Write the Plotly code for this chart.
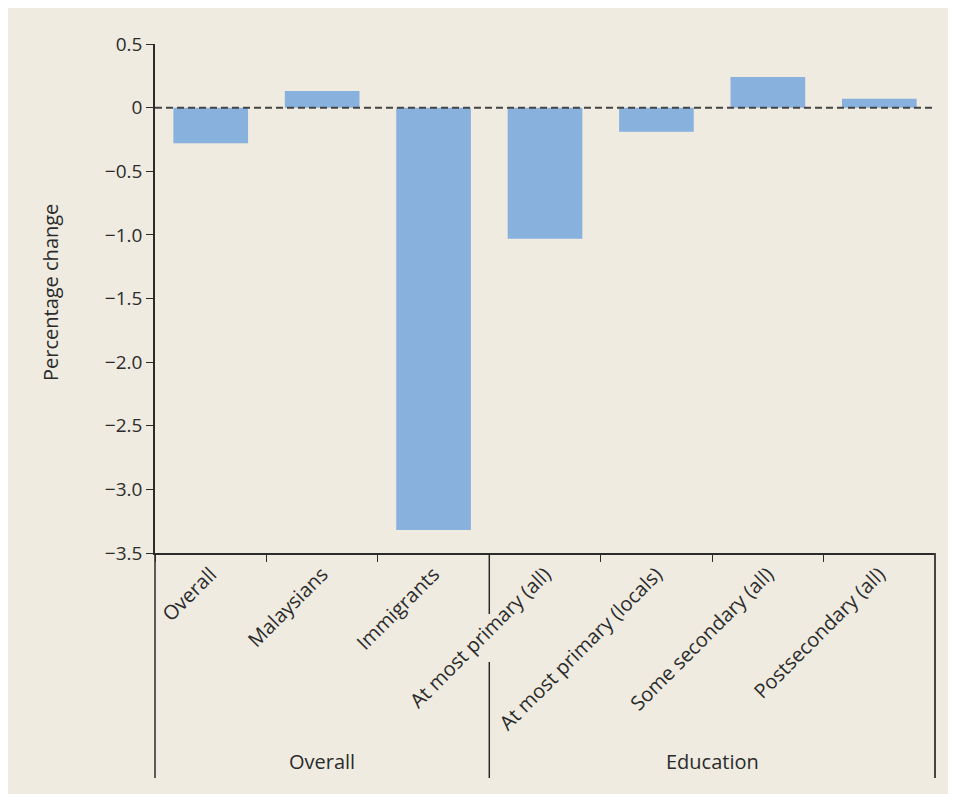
import plotly.graph_objects as go

# data
categories = [
    "Overall",
    "Malaysians",
    "Immigrants",
    "At most primary (all)",
    "At most primary (locals)",
    "Some secondary (all)",
    "Postsecondary (all)",
]
values = [-0.28, 0.13, -3.32, -1.03, -0.19, 0.24, 0.07]
group_names = ["Overall", "Education"]
group_centers = [1, 4.5]

y_tickvals = [0.5, 0, -0.5, -1.0, -1.5, -2.0, -2.5, -3.0, -3.5]
y_ticktext = ["0.5", "0", "\u22120.5", "\u22121.0", "\u22121.5", "\u22122.0",
              "\u22122.5", "\u22123.0", "\u22123.5"]

BEIGE = "#EFEBE1"
BAR = "#88B1DD"
INK = "#2B2B2B"
FONT = "Open Sans"

# page body margin shifts the figure by 8px; plot area on screen is x 155..935, y 44..553
OFF = 8
W, H = 956, 794
FW, FH = W + 20, H + 20  # a bit oversized so the beige reaches the window edges
L, T = 155 - OFF, 44 - OFF
R = FW - (935 - OFF)
B = FH - (553 - OFF)
pw, ph = FW - L - R, FH - T - B


def px_x(px):
    return (px - OFF - L) / pw


def px_y(py):
    return (FH - B - (py - OFF)) / ph


fig = go.Figure()

fig.add_trace(
    go.Bar(
        x=categories,
        y=values,
        marker=dict(color=BAR, line=dict(width=0)),
        showlegend=False,
        hoverinfo="x+y",
    )
)

shapes = [
    # dashed zero line
    dict(type="line", xref="paper", yref="y", x0=0, x1=1, y0=0, y1=0,
         line=dict(color="#444444", width=2, dash="7px,4px")),
    # group separators
    dict(type="line", xref="paper", yref="paper", x0=0, x1=0,
         y0=0, y1=px_y(778), line=dict(color=INK, width=1.5)),
    dict(type="line", xref="paper", yref="paper", x0=1, x1=1,
         y0=0, y1=px_y(778), line=dict(color="#444444", width=2)),
    dict(type="line", xref="x", yref="paper", x0=2.5, x1=2.5,
         y0=0, y1=px_y(614), line=dict(color=INK, width=1.5)),
    dict(type="line", xref="x", yref="paper", x0=2.5, x1=2.5,
         y0=px_y(662), y1=px_y(778), line=dict(color=INK, width=1.5)),
]

annotations = [
    dict(text="Percentage change", xref="paper", yref="paper",
         x=px_x(50), y=px_y(293), textangle=-90, showarrow=False,
         xanchor="center", yanchor="middle",
         font=dict(size=20, color=INK, family=FONT)),
]
for name, c in zip(group_names, group_centers):
    annotations.append(
        dict(text=name, xref="x", yref="paper", x=c, y=px_y(761),
             showarrow=False, xanchor="center", yanchor="middle",
             font=dict(size=20, color=INK, family=FONT))
    )

fig.update_layout(
    width=FW,
    height=FH,
    margin=dict(l=L, r=R, t=T, b=B),
    paper_bgcolor=BEIGE,
    plot_bgcolor=BEIGE,
    bargap=0.33,
    font=dict(family=FONT, color=INK, size=18),
    shapes=shapes,
    annotations=annotations,
    xaxis=dict(
        type="category",
        tickangle=-45,
        tickson="boundaries",
        ticks="outside",
        ticklen=7,
        tickcolor=INK,
        showline=True,
        linecolor=INK,
        linewidth=1.5,
        showgrid=False,
        automargin=False,
        tickfont=dict(size=20, color=INK, family=FONT),
        range=[-0.5, 6.5],
    ),
    yaxis=dict(
        range=[-3.5, 0.5],
        tickvals=y_tickvals,
        ticktext=y_ticktext,
        ticks="outside",
        ticklen=7,
        tickcolor=INK,
        showline=True,
        linecolor=INK,
        linewidth=1.5,
        showgrid=False,
        zeroline=False,
        automargin=False,
        tickfont=dict(size=19, color=INK, family=FONT),
    ),
)

fig.write_html("out.html")
